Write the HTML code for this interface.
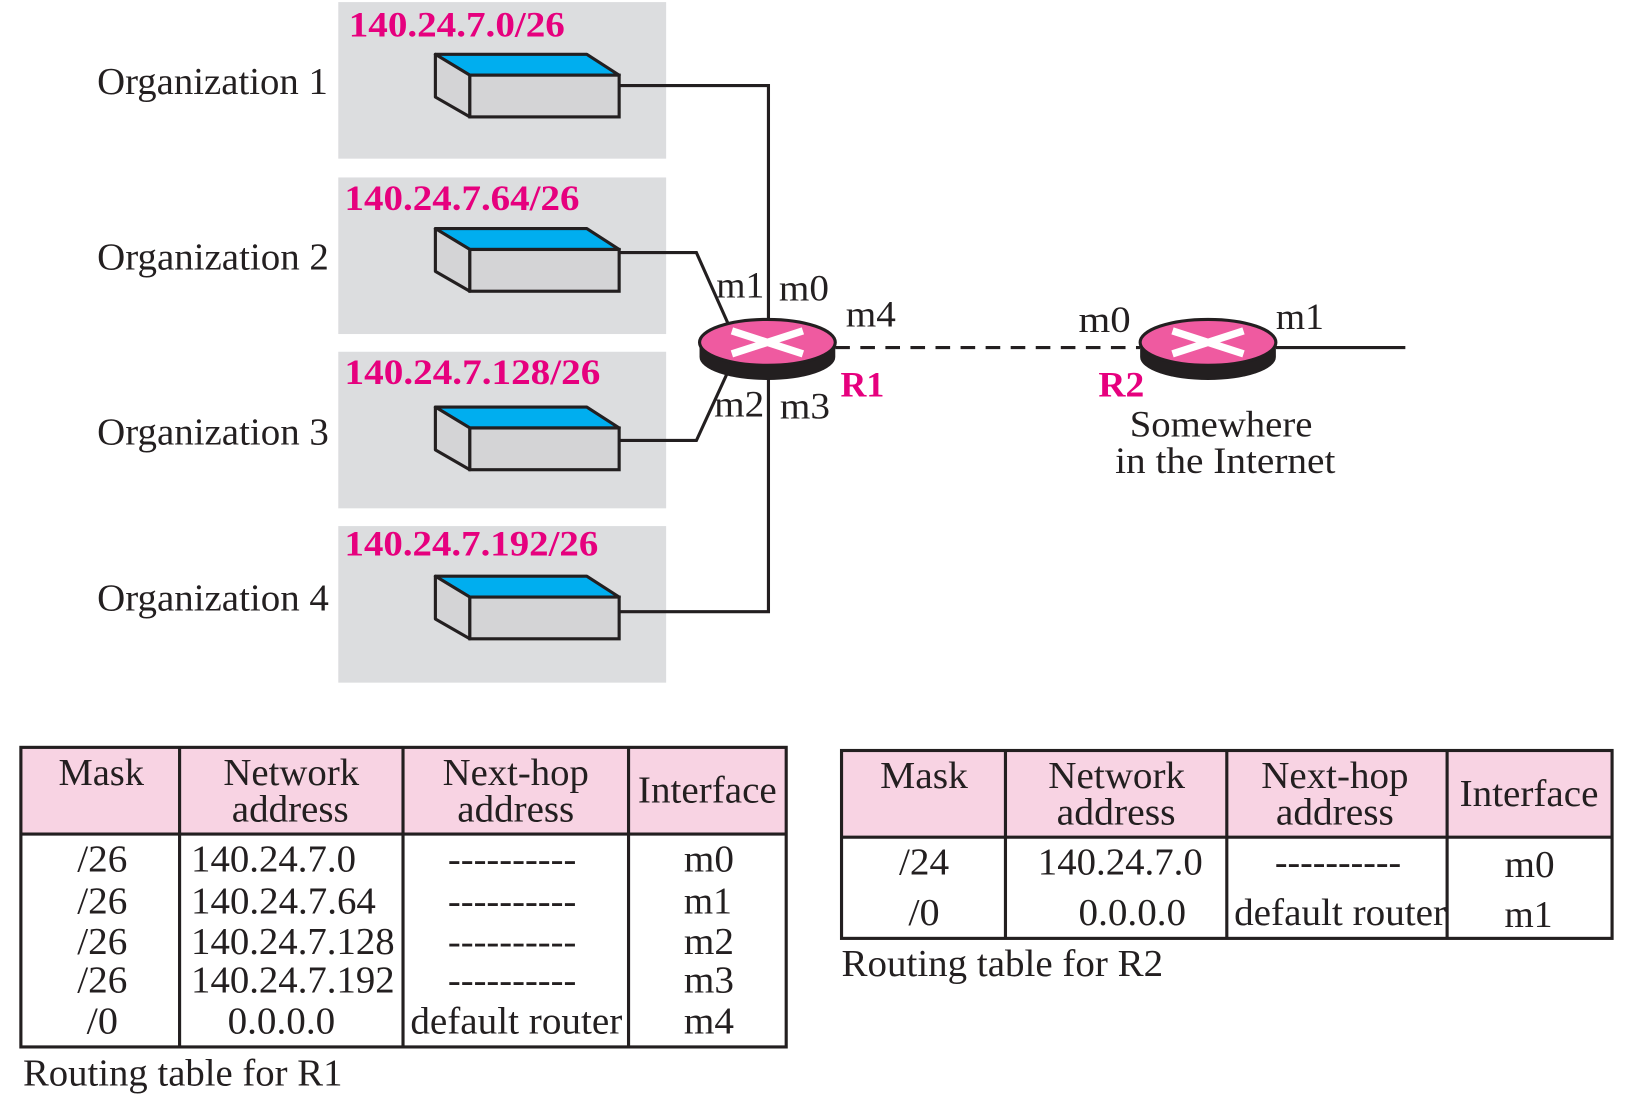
<!DOCTYPE html>
<html><head><meta charset="utf-8"><style>html,body{margin:0;padding:0;background:#fff}svg{display:block}</style></head>
<body>
<svg width="1634" height="1096" viewBox="0 0 1565 1050" preserveAspectRatio="none" xmlns="http://www.w3.org/2000/svg" font-family="'Liberation Serif', serif">
<defs>
<g id="sw">
<polygon points="417,52 562,52 593,72 450,72" fill="#00aeef" stroke="#231f20" stroke-width="3" stroke-linejoin="round"/>
<polygon points="417,52 450,72 450,112 417,93" fill="#d4d4d6" stroke="#231f20" stroke-width="3" stroke-linejoin="round"/>
<rect x="450" y="72" width="143" height="40" fill="#d4d4d6" stroke="#231f20" stroke-width="3"/>
</g>
<g id="rt">
<path d="M-65,0 v14 a65,22 0 0 0 130,0 v-14 z" fill="#231f20"/>
<ellipse cx="0" cy="0" rx="65" ry="22" fill="#ef5aa0" stroke="#231f20" stroke-width="3"/>
<path d="M-34,-11 L34,11 M-34,11 L34,-11" stroke="#fff" stroke-width="7"/>
</g>
</defs>
<g fill="#dcdddf">
<rect x="324" y="2" width="314" height="150"/><rect x="324" y="170" width="314" height="150"/>
<rect x="324" y="337" width="314" height="150"/><rect x="324" y="504" width="314" height="150"/>
</g>
<g fill="#e6007e" font-weight="bold" font-size="34" lengthAdjust="spacingAndGlyphs">
<text x="334" y="35" textLength="207" lengthAdjust="spacingAndGlyphs">140.24.7.0/26</text>
<text x="330" y="201" textLength="225" lengthAdjust="spacingAndGlyphs">140.24.7.64/26</text>
<text x="330" y="368" textLength="245" lengthAdjust="spacingAndGlyphs">140.24.7.128/26</text>
<text x="330" y="532" textLength="243" lengthAdjust="spacingAndGlyphs">140.24.7.192/26</text>
<text x="805" y="380" textLength="42" lengthAdjust="spacingAndGlyphs">R1</text>
<text x="1052" y="380" textLength="44" lengthAdjust="spacingAndGlyphs">R2</text>
</g>
<g font-size="36" fill="#231f20">
<text x="93" y="90" textLength="221" lengthAdjust="spacingAndGlyphs">Organization 1</text>
<text x="93" y="258" textLength="222" lengthAdjust="spacingAndGlyphs">Organization 2</text>
<text x="93" y="426" textLength="222" lengthAdjust="spacingAndGlyphs">Organization 3</text>
<text x="93" y="585" textLength="222" lengthAdjust="spacingAndGlyphs">Organization 4</text>
</g>
<use href="#sw"/><use href="#sw" y="167"/><use href="#sw" y="338"/><use href="#sw" y="500"/>
<g stroke="#231f20" stroke-width="3" fill="none">
<polyline points="593,82 736,82 736,312"/>
<polyline points="593,242 667,242 700,316"/>
<polyline points="593,422 667,422 700,350"/>
<polyline points="593,586 736,586 736,360"/>
<line x1="800" y1="333" x2="1092" y2="333" stroke-dasharray="14,10"/>
<line x1="1222" y1="333" x2="1346" y2="333"/>
</g>
<use href="#rt" x="735" y="328"/><use href="#rt" x="1157" y="328"/>
<g font-size="35" fill="#231f20">
<text x="686" y="285" textLength="46" lengthAdjust="spacingAndGlyphs">m1</text>
<text x="746" y="288" textLength="48" lengthAdjust="spacingAndGlyphs">m0</text>
<text x="810" y="313" textLength="48" lengthAdjust="spacingAndGlyphs">m4</text>
<text x="684" y="399" textLength="48" lengthAdjust="spacingAndGlyphs">m2</text>
<text x="747" y="401" textLength="48" lengthAdjust="spacingAndGlyphs">m3</text>
<text x="1033" y="318" textLength="50" lengthAdjust="spacingAndGlyphs">m0</text>
<text x="1222" y="315" textLength="46" lengthAdjust="spacingAndGlyphs">m1</text>
<text x="1082" y="418" textLength="175" lengthAdjust="spacingAndGlyphs">Somewhere</text>
<text x="1068" y="453" textLength="211" lengthAdjust="spacingAndGlyphs">in the Internet</text>
</g>
<!-- table 1 -->
<rect x="20" y="716" width="733" height="83" fill="#f8d3e3"/>
<g stroke="#231f20" stroke-width="3" fill="none">
<rect x="20" y="716" width="733" height="287"/>
<line x1="20" y1="799" x2="753" y2="799"/>
<line x1="172" y1="716" x2="172" y2="1003"/><line x1="386" y1="716" x2="386" y2="1003"/><line x1="602" y1="716" x2="602" y2="1003"/>
</g>
<g font-size="36" fill="#231f20">
<text x="56" y="752" textLength="82" lengthAdjust="spacingAndGlyphs">Mask</text>
<text x="214" y="752" textLength="130" lengthAdjust="spacingAndGlyphs">Network</text>
<text x="222" y="787" textLength="112" lengthAdjust="spacingAndGlyphs">address</text>
<text x="424" y="752" textLength="140" lengthAdjust="spacingAndGlyphs">Next-hop</text>
<text x="438" y="787" textLength="112" lengthAdjust="spacingAndGlyphs">address</text>
<text x="611" y="769" textLength="133" lengthAdjust="spacingAndGlyphs">Interface</text>
<text x="74" y="835" textLength="48" lengthAdjust="spacingAndGlyphs">/26</text>
<text x="74" y="875" textLength="48" lengthAdjust="spacingAndGlyphs">/26</text>
<text x="74" y="914" textLength="48" lengthAdjust="spacingAndGlyphs">/26</text>
<text x="74" y="951" textLength="48" lengthAdjust="spacingAndGlyphs">/26</text>
<text x="83" y="990" textLength="30" lengthAdjust="spacingAndGlyphs">/0</text>
<text x="183" y="835" textLength="158" lengthAdjust="spacingAndGlyphs">140.24.7.0</text>
<text x="183" y="875" textLength="177" lengthAdjust="spacingAndGlyphs">140.24.7.64</text>
<text x="183" y="914" textLength="195" lengthAdjust="spacingAndGlyphs">140.24.7.128</text>
<text x="183" y="951" textLength="195" lengthAdjust="spacingAndGlyphs">140.24.7.192</text>
<text x="218" y="990" textLength="103" lengthAdjust="spacingAndGlyphs">0.0.0.0</text>
<text x="429" y="835" textLength="123" lengthAdjust="spacingAndGlyphs">----------</text>
<text x="429" y="875" textLength="123" lengthAdjust="spacingAndGlyphs">----------</text>
<text x="429" y="914" textLength="123" lengthAdjust="spacingAndGlyphs">----------</text>
<text x="429" y="951" textLength="123" lengthAdjust="spacingAndGlyphs">----------</text>
<text x="393" y="990" textLength="203" lengthAdjust="spacingAndGlyphs">default router</text>
<text x="655" y="835" textLength="48" lengthAdjust="spacingAndGlyphs">m0</text>
<text x="655" y="875" textLength="46" lengthAdjust="spacingAndGlyphs">m1</text>
<text x="655" y="914" textLength="48" lengthAdjust="spacingAndGlyphs">m2</text>
<text x="655" y="951" textLength="48" lengthAdjust="spacingAndGlyphs">m3</text>
<text x="655" y="990" textLength="48" lengthAdjust="spacingAndGlyphs">m4</text>
<text x="22" y="1040" textLength="306" lengthAdjust="spacingAndGlyphs">Routing table for R1</text>
</g>
<!-- table 2 -->
<rect x="806" y="719" width="738" height="83" fill="#f8d3e3"/>
<g stroke="#231f20" stroke-width="3" fill="none">
<rect x="806" y="719" width="738" height="180"/>
<line x1="806" y1="802" x2="1544" y2="802"/>
<line x1="963" y1="719" x2="963" y2="899"/><line x1="1175" y1="719" x2="1175" y2="899"/><line x1="1386" y1="719" x2="1386" y2="899"/>
</g>
<g font-size="36" fill="#231f20">
<text x="843" y="755" textLength="84" lengthAdjust="spacingAndGlyphs">Mask</text>
<text x="1004" y="755" textLength="131" lengthAdjust="spacingAndGlyphs">Network</text>
<text x="1012" y="790" textLength="114" lengthAdjust="spacingAndGlyphs">address</text>
<text x="1208" y="755" textLength="141" lengthAdjust="spacingAndGlyphs">Next-hop</text>
<text x="1222" y="790" textLength="113" lengthAdjust="spacingAndGlyphs">address</text>
<text x="1398" y="772" textLength="133" lengthAdjust="spacingAndGlyphs">Interface</text>
<text x="861" y="838" textLength="48" lengthAdjust="spacingAndGlyphs">/24</text>
<text x="870" y="886" textLength="30" lengthAdjust="spacingAndGlyphs">/0</text>
<text x="994" y="838" textLength="158" lengthAdjust="spacingAndGlyphs">140.24.7.0</text>
<text x="1033" y="886" textLength="103" lengthAdjust="spacingAndGlyphs">0.0.0.0</text>
<text x="1221" y="838" textLength="121" lengthAdjust="spacingAndGlyphs">----------</text>
<text x="1182" y="886" textLength="203" lengthAdjust="spacingAndGlyphs">default router</text>
<text x="1441" y="840" textLength="48" lengthAdjust="spacingAndGlyphs">m0</text>
<text x="1441" y="888" textLength="46" lengthAdjust="spacingAndGlyphs">m1</text>
<text x="806" y="935" textLength="308" lengthAdjust="spacingAndGlyphs">Routing table for R2</text>
</g>
</svg>
</body></html>
